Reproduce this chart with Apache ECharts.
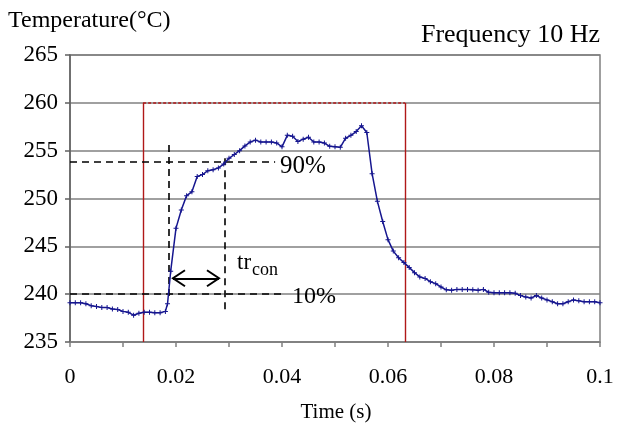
<!DOCTYPE html>
<html>
<head>
<meta charset="utf-8">
<script src="https://cdn.jsdelivr.net/npm/echarts@6/dist/echarts.min.js"></script>
<style>
  html, body { margin: 0; padding: 0; background: #fff; }
  #chart { width: 622px; height: 430px; }
</style>
</head>
<body>
<div id="chart"></div>
<script>
// ---- data ----
const timeS = [
  0.000, 0.001, 0.002, 0.003, 0.004, 0.005, 0.006, 0.007, 0.008, 0.009,
  0.010, 0.011, 0.012, 0.013, 0.014, 0.015, 0.016, 0.017, 0.018, 0.0184,
  0.019, 0.020, 0.021, 0.022, 0.023, 0.024, 0.025, 0.026, 0.027, 0.028,
  0.029, 0.030, 0.031, 0.032, 0.033, 0.034, 0.035, 0.036, 0.037, 0.038,
  0.039, 0.040, 0.041, 0.042, 0.043, 0.044, 0.045, 0.046, 0.047, 0.048,
  0.049, 0.050, 0.051, 0.052, 0.053, 0.054, 0.055, 0.056, 0.057, 0.058,
  0.059, 0.060, 0.061, 0.062, 0.063, 0.064, 0.065, 0.066, 0.067, 0.068,
  0.069, 0.070, 0.071, 0.072, 0.073, 0.074, 0.075, 0.076, 0.077, 0.078,
  0.079, 0.080, 0.081, 0.082, 0.083, 0.084, 0.085, 0.086, 0.087, 0.088,
  0.089, 0.090, 0.091, 0.092, 0.093, 0.094, 0.095, 0.096, 0.097, 0.098,
  0.099, 0.100
];
const tempC = [
  239.1, 239.1, 239.1, 239.0, 238.8, 238.7, 238.6, 238.6, 238.45, 238.4,
  238.2, 238.1, 237.8, 238.0, 238.1, 238.1, 238.05, 238.05, 238.2, 239.0,
  242.4, 246.9, 248.8, 250.3, 250.7, 252.3, 252.5, 252.9, 253.0, 253.2,
  253.6, 254.2, 254.6, 255.0, 255.5, 255.9, 256.1, 255.9, 255.9, 255.9,
  255.8, 255.4, 256.6, 256.5, 255.95, 256.2, 256.4, 255.9, 255.9, 255.8,
  255.45, 255.4, 255.35, 256.3, 256.6, 257.0, 257.6, 256.9, 252.6, 249.7,
  247.6, 245.7, 244.5, 243.8, 243.3, 242.8, 242.25, 241.8, 241.65, 241.3,
  241.1, 240.75, 240.45, 240.4, 240.5, 240.5, 240.5, 240.45, 240.4, 240.5,
  240.2, 240.15, 240.15, 240.15, 240.15, 240.1, 239.85, 239.7, 239.6, 239.85,
  239.6, 239.4, 239.2, 239.0, 239.0, 239.2, 239.4, 239.3, 239.2, 239.2,
  239.2, 239.1
];
const xTicks = [0, 0.02, 0.04, 0.06, 0.08, 0.1];
const yMin = 235, yMax = 265, yStep = 5;

// annotation values (data units)
const pulseStart = 0.0138, pulseEnd = 0.0632, pulseTop = 260;
const level90 = 253.8, level10 = 240.0;
const level90End = 0.0387, level10End = 0.0402;
const riseStartT = 0.01868, riseStartTop = 255.6, riseStartBottom = 239.4;
const riseEndT = 0.02925, riseEndTop = 254.2, riseEndBottom = 238.1;
const arrowY = 241.66, arrowFrom = 0.01943, arrowTo = 0.02811;

const serif = "'Liberation Serif', 'Times New Roman', serif";
const chart = echarts.init(document.getElementById('chart'));
const plusSymbol = 'path://M2,0H3V2H5V3H3V5H2V3H0V2H2Z';

const dashBlack = { color: '#000', width: 1.6, type: [7, 5] };
const redSolid = { color: '#b01818', width: 1.4, type: 'solid' };
const redDash = { color: '#b01818', width: 1.6, type: [3, 2] };
function seg(x1, y1, x2, y2, style) {
  return [{ coord: [x1, y1], lineStyle: style }, { coord: [x2, y2] }];
}

chart.setOption({
  animation: false,
  grid: { left: 70, right: 22, top: 55, bottom: 88, show: true, borderColor: '#808080', borderWidth: 1.5 },
  xAxis: {
    type: 'value', min: 0, max: 0.1, interval: 0.01,
    axisLine: { lineStyle: { color: '#808080', width: 1.5 } },
    axisTick: { show: true, inside: false, length: 5, lineStyle: { color: '#808080', width: 1.5 } },
    axisLabel: {
      color: '#000', fontFamily: serif, fontSize: 22, margin: 24,
      formatter: function (v) {
        const k = Math.round(v * 100);
        if (k % 2 !== 0) return '';
        const t = xTicks.find(x => Math.abs(x - v) < 1e-9);
        return t === undefined ? '' : String(t);
      }
    },
    splitLine: { show: false }
  },
  yAxis: {
    type: 'value', min: yMin, max: yMax, interval: yStep,
    axisLine: { show: true, lineStyle: { color: '#606060', width: 1.5 } },
    axisTick: { show: true, inside: false, length: 5, lineStyle: { color: '#606060', width: 1.5 } },
    axisLabel: { color: '#000', fontFamily: serif, fontSize: 23, margin: 12 },
    splitLine: { show: true, lineStyle: { color: '#808080', width: 1.5 } }
  },
  series: [{
    type: 'line',
    data: timeS.map((t, i) => [t, tempC[i]]),
    showSymbol: true,
    symbol: plusSymbol,
    symbolSize: 5,
    itemStyle: { color: '#16168f' },
    lineStyle: { color: '#16168f', width: 1.5 },
    z: 5,
    markLine: {
      silent: true,
      symbol: 'none',
      label: { show: false },
      animation: false,
      data: [
        seg(pulseStart, yMin, pulseStart, pulseTop, redSolid),
        seg(pulseStart, pulseTop, pulseEnd, pulseTop, redDash),
        seg(pulseEnd, pulseTop, pulseEnd, yMin, redSolid),
        seg(0, level90, level90End, level90, dashBlack),
        seg(0, level10, level10End, level10, dashBlack),
        seg(riseStartT, riseStartTop, riseStartT, riseStartBottom, dashBlack),
        seg(riseEndT, riseEndTop, riseEndT, riseEndBottom, dashBlack),
        seg(arrowFrom, arrowY, arrowTo, arrowY, { color: '#000', width: 2, type: 'solid' })
      ]
    }
  }]
});

// arrow heads + texts
const pA = chart.convertToPixel({ seriesIndex: 0 }, [arrowFrom, arrowY]);
const pB = chart.convertToPixel({ seriesIndex: 0 }, [arrowTo, arrowY]);
const headW = 12, headH = 8;
const txt = (x, y, s, size, align) => ({
  type: 'text', x: x, y: y,
  style: { text: s, fill: '#000', font: size + 'px ' + serif, textAlign: align || 'left', textVerticalAlign: 'middle' }
});
chart.setOption({
  graphic: [
    { type: 'polyline', shape: { points: [[pA[0] + headW, pA[1] - headH], [pA[0], pA[1]], [pA[0] + headW, pA[1] + headH]] },
      style: { stroke: '#000', lineWidth: 2, fill: null }, z: 10 },
    { type: 'polyline', shape: { points: [[pB[0] - headW, pB[1] - headH], [pB[0], pB[1]], [pB[0] - headW, pB[1] + headH]] },
      style: { stroke: '#000', lineWidth: 2, fill: null }, z: 10 },
    txt(8, 21, 'Temperature(°C)', 24),
    txt(600, 35, 'Frequency 10 Hz', 26, 'right'),
    txt(336, 412, 'Time (s)', 21, 'center'),
    txt(280, 166, '90%', 25),
    txt(292, 297, '10%', 24),
    txt(237, 263, 'tr', 23),
    txt(252, 270, 'con', 18)
  ]
});
</script>
</body>
</html>
